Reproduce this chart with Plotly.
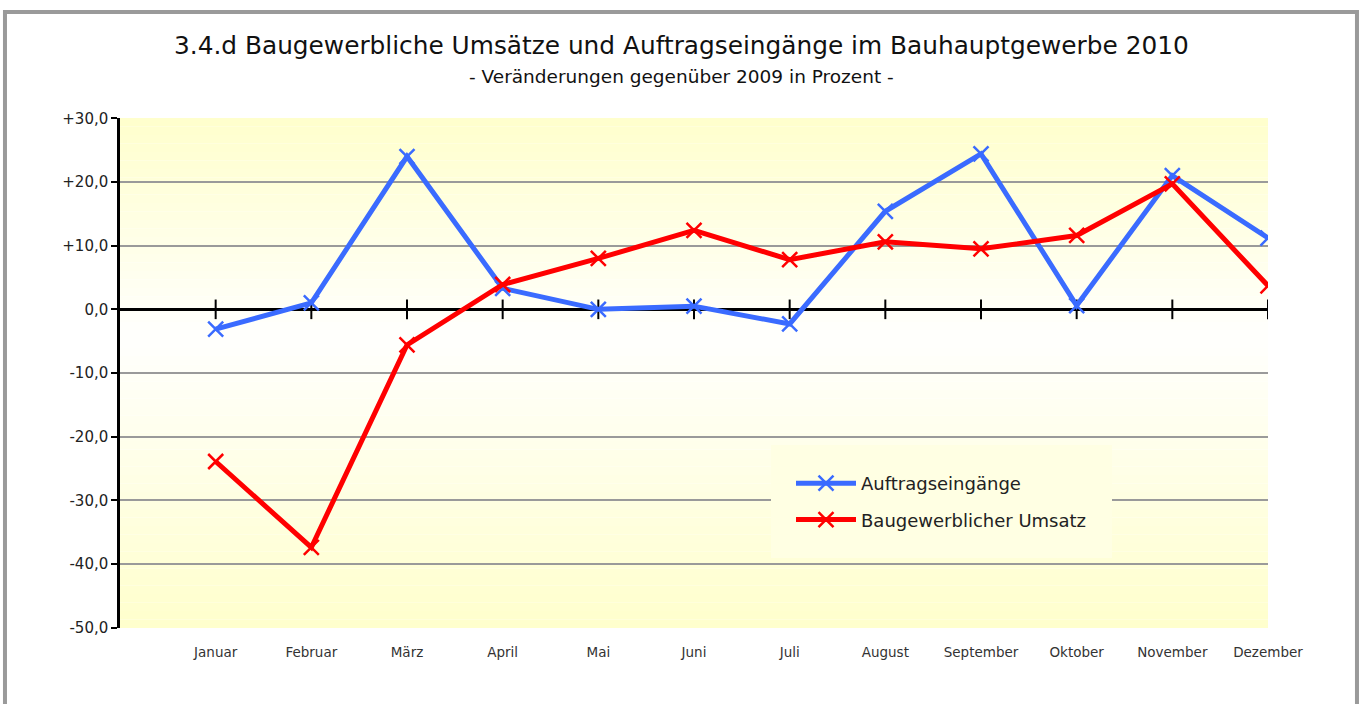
import plotly.graph_objects as go

months = ["Januar", "Februar", "März", "April", "Mai", "Juni", "Juli",
          "August", "September", "Oktober", "November", "Dezember"]
auftrag = [-3.1, 1.0, 24.0, 3.3, 0.0, 0.5, -2.3, 15.4, 24.4, 0.6, 21.0, 11.2]
umsatz = [-23.9, -37.4, -5.6, 3.9, 8.0, 12.4, 7.8, 10.6, 9.5, 11.6, 19.7, 3.7]
ytickvals = [30, 20, 10, 0, -10, -20, -30, -40, -50]
yticktext = ["+30,0", "+20,0", "+10,0", "0,0", "-10,0", "-20,0", "-30,0", "-40,0", "-50,0"]

FONT = "DejaVu Sans"
BLUE = "#3A6BFF"
RED = "#FF0000"

fig = go.Figure()

# x-axis tick crosses on the zero line
fig.add_trace(go.Scatter(
    x=months, y=[0] * len(months), mode="markers",
    marker=dict(symbol="line-ns", size=14, line=dict(color="black", width=2)),
    showlegend=False, hoverinfo="skip"))

fig.add_trace(go.Scatter(
    x=months, y=auftrag, mode="lines+markers", name="Auftragseingänge",
    legendgroup="a",
    line=dict(color=BLUE, width=5),
    marker=dict(symbol="x-thin", size=15, line=dict(color=BLUE, width=2.5))))
fig.add_trace(go.Scatter(
    x=months, y=umsatz, mode="lines+markers", name="Baugewerblicher Umsatz",
    legendgroup="b",
    line=dict(color=RED, width=5),
    marker=dict(symbol="x-thin", size=15, line=dict(color=RED, width=2.5))))

# background gradient (decoration)
shapes = []
n = 60
center = 0.57
for i in range(n):
    y0 = i / n
    y1 = (i + 1) / n
    m = (y0 + y1) / 2
    if m < center:
        t = m / center
    else:
        t = (1 - m) / (1 - center)
    b = int(round(204 + (253 - 204) * t))
    shapes.append(dict(type="rect", xref="paper", yref="paper", x0=0, x1=1,
                       y0=y0, y1=y1, fillcolor=f"rgb(255,255,{b})",
                       line=dict(width=0), layer="below"))
# outer frame
shapes.append(dict(type="rect", xref="paper", yref="paper",
                   x0=-0.1002, x1=1.0775, y0=-0.2, y1=1.2078,
                   line=dict(color="#9A9A9A", width=4), layer="above"))

LEG_BG = "rgb(255,255,227)"
fig.update_layout(
    width=1365, height=704,
    margin=dict(l=120, r=97, t=118, b=76),
    paper_bgcolor="white", plot_bgcolor="rgba(0,0,0,0)",
    font=dict(family=FONT, color="#222"),
    shapes=shapes,
    showlegend=True,
    legend=dict(x=(771 - 120) / 1148, y=(628 - 445) / 510, xanchor="left", yanchor="top",
                bgcolor=LEG_BG, bordercolor=LEG_BG, borderwidth=20,
                font=dict(size=18, family=FONT, color="#222"),
                itemwidth=60, tracegroupgap=10),
    annotations=[
        dict(text="3.4.d Baugewerbliche Umsätze und Auftragseingänge im Bauhauptgewerbe 2010",
             xref="paper", yref="paper", x=0.4895, y=(628 - 45) / 510,
             xanchor="center", yanchor="middle", showarrow=False,
             font=dict(size=24.8, family=FONT, color="#111")),
        dict(text="- Veränderungen gegenüber 2009 in Prozent -",
             xref="paper", yref="paper", x=0.4895, y=(628 - 76) / 510,
             xanchor="center", yanchor="middle", showarrow=False,
             font=dict(size=18.5, family=FONT, color="#111")),
    ],
    xaxis=dict(type="category", range=[-1, 11], showgrid=False, zeroline=False,
               showline=False, ticks="", tickfont=dict(size=13.5, color="#333"),
               ticklabelstandoff=14),
    yaxis=dict(range=[-50.05, 30.05], tickvals=ytickvals, ticktext=yticktext,
               showgrid=True, gridcolor="#9A9A9A", gridwidth=2,
               zeroline=True, zerolinecolor="black", zerolinewidth=2.5,
               showline=True, linecolor="black", linewidth=2.5,
               ticks="outside", ticklen=6, tickwidth=2, tickcolor="black",
               tickfont=dict(size=15, color="#222")),
)

fig.write_html("out.html", config={"displayModeBar": False},
               post_script="document.body.style.margin='0';document.body.style.overflow='hidden';")
